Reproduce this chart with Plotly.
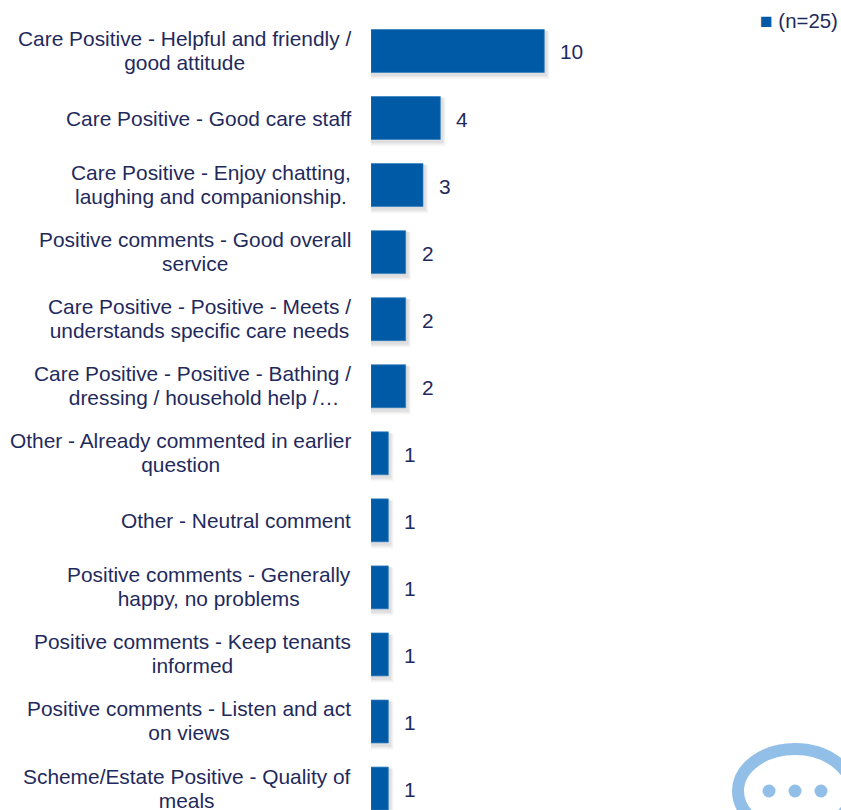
import plotly.graph_objects as go

categories = [
    "Care Positive - Helpful and friendly /<br>good attitude",
    "Care Positive - Good care staff",
    "Care Positive - Enjoy chatting,<br>laughing and companionship.",
    "Positive comments - Good overall<br>service",
    "Care Positive - Positive - Meets /<br>understands specific care needs",
    "Care Positive - Positive - Bathing /<br>\u00a0\u00a0\u00a0\u00a0dressing / household help /…",
    "Other - Already commented in earlier<br>question",
    "Other - Neutral comment",
    "Positive comments - Generally<br>happy, no problems",
    "Positive comments - Keep tenants<br>informed",
    "Positive comments - Listen and act<br>on views",
    "Scheme/Estate Positive - Quality of<br>meals",
]
values = [10, 4, 3, 2, 2, 2, 1, 1, 1, 1, 1, 1]
series_name = "(n=25)"

W, H = 841, 810
LEFT = 371
BLUE = "#005aa6"
TEXT = "#1f2a5c"
LOGO = "#92bfe8"
FONT = "Liberation Sans, Arial, sans-serif"
FS = 20.9
positions = list(range(len(categories)))

fig = go.Figure()
# soft drop shadow behind each bar
for grow, alpha in [(0.30, 0.04), (0.24, 0.05), (0.17, 0.08)]:
    fig.add_trace(go.Bar(
        y=positions, x=[v + grow for v in values], orientation="h",
        width=0.64 + grow / 4, offset=-0.32 + grow / 12,
        marker=dict(color=f"rgba(60,60,60,{alpha})", line_width=0),
        hoverinfo="skip", showlegend=False))
fig.add_trace(go.Bar(
    y=positions, x=values, orientation="h", name=series_name,
    width=0.64, offset=-0.32,
    marker=dict(color=BLUE, line=dict(color="#2f7cc0", width=0.7)),
    showlegend=False))

def px(x): return (x - LEFT) / (W - LEFT)
def py(y): return 1 - y / H

annotations = []
for p, c, v in zip(positions, categories, values):
    annotations.append(dict(
        xref="paper", yref="y", x=0, y=p, xanchor="right", yanchor="middle",
        xshift=-18, text=c, align="center", showarrow=False,
        font=dict(family=FONT, size=FS, color=TEXT)))
    annotations.append(dict(
        xref="x", yref="y", x=v, y=p, xanchor="left", yanchor="middle",
        xshift=14, yshift=-1, text=str(v), showarrow=False,
        font=dict(family=FONT, size=FS, color=TEXT)))
annotations.append(dict(
    xref="paper", yref="paper", x=px(840), y=py(20), xanchor="right", yanchor="middle",
    text=f'<span style="color:{BLUE};font-size:21px">■</span> {series_name}', showarrow=False,
    font=dict(family=FONT, size=20.4, color=TEXT)))

shapes = [dict(type="circle", xref="paper", yref="paper",
               x0=px(738), x1=px(852), y0=py(749), y1=py(833),
               line=dict(color=LOGO, width=12), fillcolor="white", layer="above")]
for cx in (769, 795, 821):
    shapes.append(dict(type="circle", xref="paper", yref="paper",
                       x0=px(cx - 6.5), x1=px(cx + 6.5), y0=py(784.5), y1=py(797.5),
                       line_width=0, fillcolor=LOGO, layer="above"))

fig.update_layout(
    width=W, height=H, autosize=False,
    margin=dict(l=LEFT, r=0, t=0, b=0),
    paper_bgcolor="white", plot_bgcolor="white",
    barmode="overlay", showlegend=False,
    xaxis=dict(range=[0, (W - LEFT) / 17.33], visible=False),
    yaxis=dict(range=[11.32, -0.76], visible=False),
    annotations=annotations, shapes=shapes,
)
tighten = """
document.body.style.margin='0';document.body.style.overflow='hidden';
document.querySelectorAll('.annotation-text').forEach(function(t){
  var l=t.querySelectorAll('tspan.line');
  if(l.length==2){l[0].setAttribute('dy','0.07em');l[1].setAttribute('dy','1.22em');}
});
"""
fig.write_html("out.html", config={"displayModeBar": False}, post_script=tighten)
